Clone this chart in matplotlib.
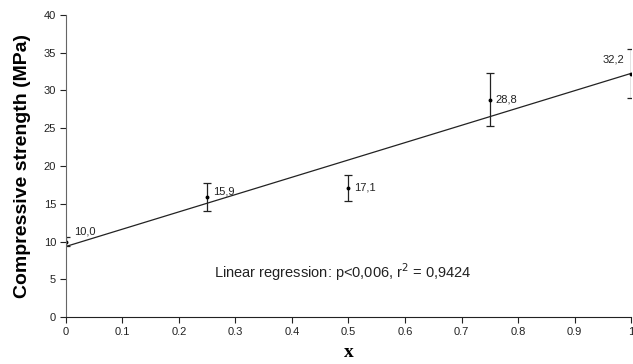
import matplotlib
matplotlib.use("Agg")
import matplotlib.pyplot as plt
import numpy as np

x = [0.0, 0.25, 0.5, 0.75, 1.0]
y = [10.0, 15.9, 17.1, 28.8, 32.2]
err = [0.6, 1.9, 1.75, 3.5, 3.25]
labels = ["10,0", "15,9", "17,1", "28,8", "32,2"]
xticks = [0, 0.1, 0.2, 0.3, 0.4, 0.5, 0.6, 0.7, 0.8, 0.9, 1]
xticklabels = ["0", "0.1", "0.2", "0.3", "0.4", "0.5", "0.6", "0.7", "0.8", "0.9", "1"]
yticks = [0, 5, 10, 15, 20, 25, 30, 35, 40]
reg_text = "Linear regression: p<0,006, r$^2$ = 0,9424"

plt.rcParams['font.family'] = ['Liberation Sans', 'DejaVu Sans']
fig = plt.figure(figsize=(6.33, 3.64), dpi=100)
ax = fig.add_axes([0.104, 0.129, 0.893, 0.830])

slope, intercept = np.polyfit(x, y, 1)
xl = np.array([0.0, 1.0])
ax.plot(xl, intercept + slope * xl, color='#222222', lw=0.9)

ax.errorbar(x, y, yerr=err, fmt='o', ms=1.8, color='black', ecolor='#222222',
            elinewidth=0.9, capsize=3, capthick=0.9)

offsets = [(6, 7), (4, 4), (4, 0), (4, 0), (-5, 10)]
has = ['left', 'left', 'left', 'left', 'right']
for xi, yi, lab, off, ha in zip(x, y, labels, offsets, has):
    ax.annotate(lab, (xi, yi), xytext=off, textcoords='offset points',
                ha=ha, va='center', fontsize=8, color='#222222')

ax.text(0.49, 6.0, reg_text, ha='center', va='center', fontsize=10.5, color='#222222')

ax.set_xlim(0, 1)
ax.set_ylim(0, 40)
ax.set_xticks(xticks)
ax.set_xticklabels(xticklabels)
ax.set_yticks(yticks)
ax.tick_params(axis='both', labelsize=8, direction='out', length=4, width=0.8,
               colors='#222222', pad=3)
for s in ['top', 'right']:
    ax.spines[s].set_visible(False)
ax.spines['left'].set_color('#666666')
ax.spines['bottom'].set_color('#222222')

ax.set_ylabel("Compressive strength (MPa)", fontsize=14, fontweight='bold', labelpad=9)
ax.set_xlabel("x", fontsize=14, fontweight='bold', family='Liberation Serif', labelpad=5)

fig.savefig("out.png", dpi=100)
